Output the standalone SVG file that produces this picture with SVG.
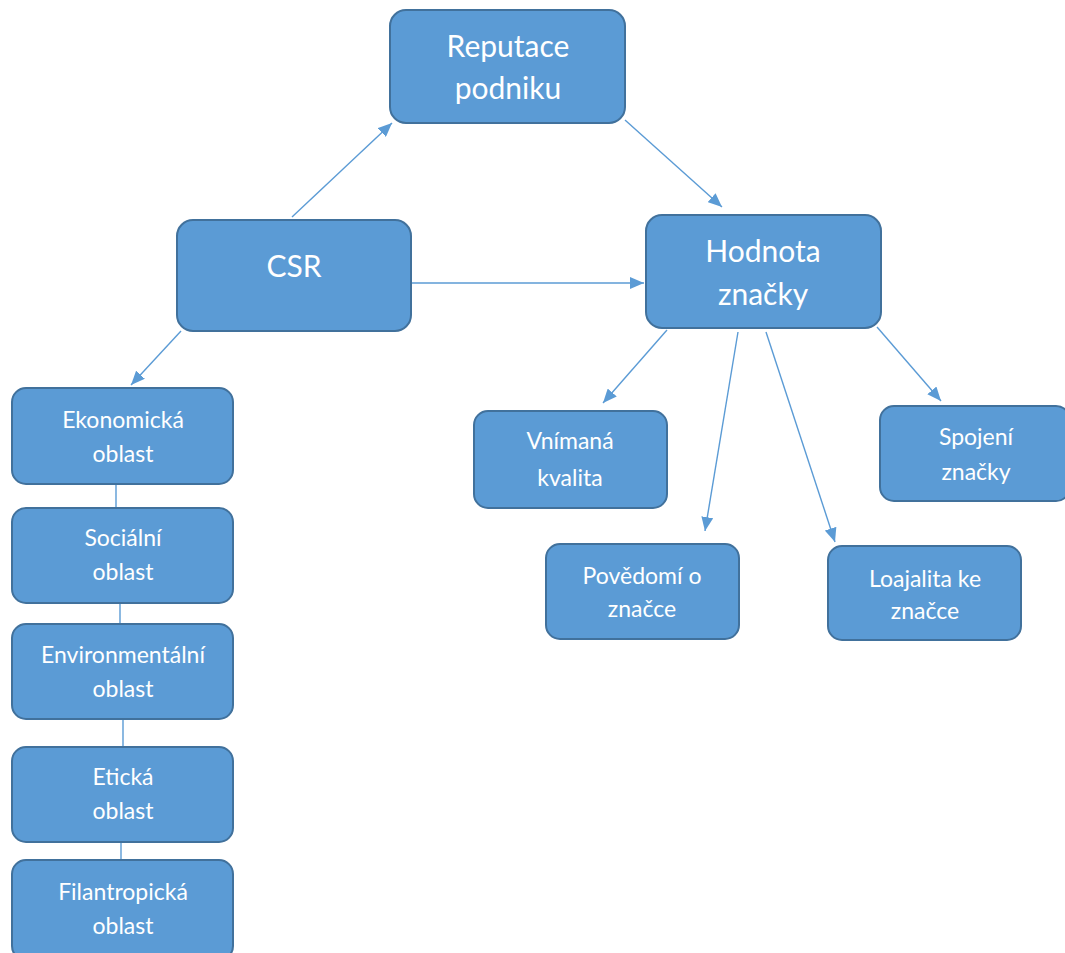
<svg xmlns="http://www.w3.org/2000/svg" width="1065" height="953" viewBox="0 0 1065 953">
<style>
.box{fill:#5B9BD5;stroke:#41719C;stroke-width:2}
.big{font-family:Lato,"Open Sans","Liberation Sans",sans-serif;font-size:30px;fill:#fff;text-anchor:middle}
.sm{font-family:Lato,"Open Sans","Liberation Sans",sans-serif;font-size:23px;fill:#fff;text-anchor:middle}
.con{stroke:#5B9BD5;stroke-width:1.4;fill:none}
</style>
<defs>
<marker id="ah" viewBox="0 0 14 12" refX="14" refY="6" markerWidth="14" markerHeight="12" markerUnits="userSpaceOnUse" orient="auto">
<path d="M0,0 L14,6 L0,12 Z" fill="#5B9BD5"/>
</marker>
</defs>
<rect width="1065" height="953" fill="#fff"/>
<g id="connectors">
<line class="con" x1="292" y1="217" x2="392" y2="123" marker-end="url(#ah)"/>
<line class="con" x1="625" y1="120" x2="722" y2="207" marker-end="url(#ah)"/>
<line class="con" x1="411" y1="283" x2="644" y2="283" marker-end="url(#ah)"/>
<line class="con" x1="181" y1="331" x2="131" y2="385" marker-end="url(#ah)"/>
<line class="con" x1="667" y1="330" x2="603" y2="403" marker-end="url(#ah)"/>
<line class="con" x1="738" y1="332" x2="705" y2="531" marker-end="url(#ah)"/>
<line class="con" x1="766" y1="332" x2="835" y2="542" marker-end="url(#ah)"/>
<line class="con" x1="877" y1="327" x2="941" y2="401" marker-end="url(#ah)"/>
<line class="con" x1="116" y1="484" x2="116" y2="508"/>
<line class="con" x1="120" y1="603" x2="120" y2="624"/>
<line class="con" x1="123" y1="719" x2="123" y2="747"/>
<line class="con" x1="121" y1="842" x2="121" y2="860"/>
</g>
<g id="reputace"><rect class="box" x="390" y="10" width="235" height="113" rx="16"/><text class="big" x="508" y="57">Reputace</text><text class="big" x="508" y="99">podniku</text></g>
<g id="csr"><rect class="box" x="177" y="220" width="234" height="111" rx="16"/><text class="big" x="294" y="277">CSR</text></g>
<g id="hodnota"><rect class="box" x="646" y="215" width="235" height="113" rx="16"/><text class="big" x="763" y="262">Hodnota</text><text class="big" x="763" y="305">značky</text></g>
<g id="ekonomicka"><rect class="box" x="12" y="388" width="221" height="96" rx="14"/><text class="sm" x="123" y="428">Ekonomická</text><text class="sm" x="123" y="462">oblast</text></g>
<g id="socialni"><rect class="box" x="12" y="508" width="221" height="95" rx="14"/><text class="sm" x="123" y="546">Sociální</text><text class="sm" x="123" y="580">oblast</text></g>
<g id="environmentalni"><rect class="box" x="12" y="624" width="221" height="95" rx="14"/><text class="sm" x="123" y="663">Environmentální</text><text class="sm" x="123" y="697">oblast</text></g>
<g id="eticka"><rect class="box" x="12" y="747" width="221" height="95" rx="14"/><text class="sm" x="123" y="785">Etická</text><text class="sm" x="123" y="819">oblast</text></g>
<g id="filantropicka"><rect class="box" x="12" y="860" width="221" height="100" rx="14"/><text class="sm" x="123" y="900">Filantropická</text><text class="sm" x="123" y="934">oblast</text></g>
<g id="vnimana"><rect class="box" x="474" y="411" width="193" height="97" rx="14"/><text class="sm" x="570" y="449">Vnímaná</text><text class="sm" x="570" y="486">kvalita</text></g>
<g id="povedomi"><rect class="box" x="546" y="544" width="193" height="95" rx="14"/><text class="sm" x="642" y="584">Povědomí o</text><text class="sm" x="642" y="617">značce</text></g>
<g id="spojeni"><rect class="box" x="880" y="406" width="190" height="95" rx="14"/><text class="sm" x="976" y="445">Spojení</text><text class="sm" x="976" y="480">značky</text></g>
<g id="loajalita"><rect class="box" x="828" y="546" width="193" height="94" rx="14"/><text class="sm" x="925" y="587">Loajalita ke</text><text class="sm" x="925" y="619">značce</text></g>
</svg>
